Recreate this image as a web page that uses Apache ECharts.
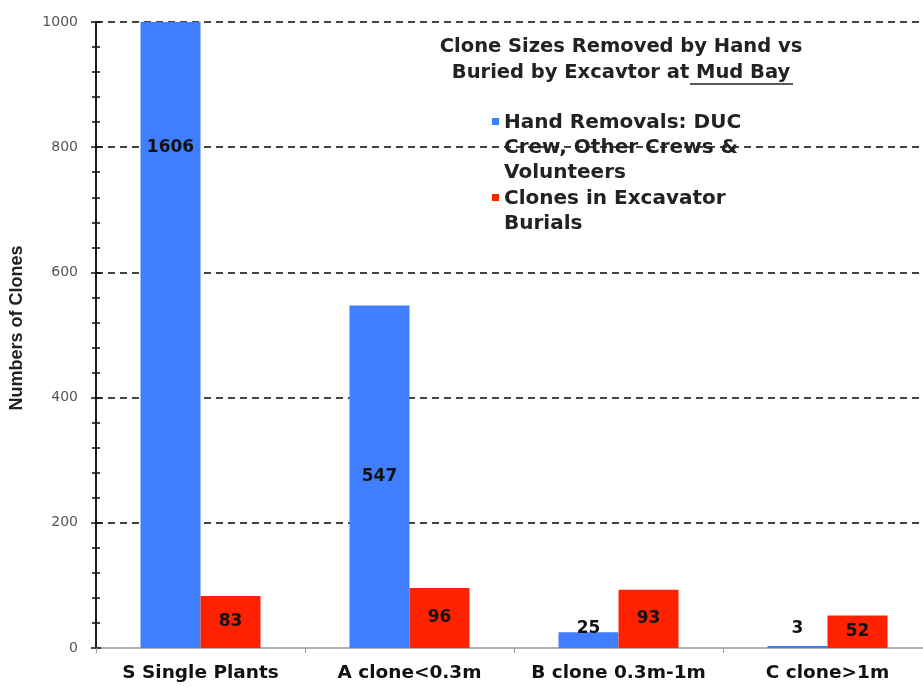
<!DOCTYPE html>
<html>
<head>
    <meta charset="UTF-8">
    <title>Clone Sizes at Mud Bay</title>
    <script src="https://cdn.jsdelivr.net/npm/echarts@6/dist/echarts.min.js"></script>
    <style>
        html, body { margin: 0; padding: 0; background: #fff; }
        #chart { width: 923px; height: 687px; }
    </style>
</head>
<body>
    <div id="chart"></div>
    <script>
        // data
        var categories = ['S Single Plants', 'A clone<0.3m', 'B clone 0.3m-1m', 'C clone>1m'];
        var handRemovals = [1606, 547, 25, 3];
        var excavatorBurials = [83, 96, 93, 52];
        var yMin = 0, yMax = 1000, yStep = 200;

        var handName = 'Hand Removals: DUC\nCrew, Other Crews &\nVolunteers';
        var burialName = 'Clones in Excavator\nBurials';

        var blue = '#3f7eff';
        var red = '#ff2200';
        var bold = "'DejaVu Sans', sans-serif";

        var handData = handRemovals.map(function(v) {
            var item = { value: v, label: {} };
            if (v > yMax) {
                // bar runs off the top of the axis, number sits near the 800 line
                item.label = { position: 'insideTop', distance: 117 };
            } else if (v < 60) {
                // tiny bars: number floats just above the baseline
                item.label = { position: 'insideBottom', distance: 11 };
            } else {
                item.label = { position: 'inside' };
            }
            return item;
        });

        var labelStyle = {
            show: true,
            color: '#111',
            fontFamily: bold,
            fontWeight: 'bold',
            fontSize: 17
        };

        var chart = echarts.init(document.getElementById('chart'));

        var yCommon = {
            type: 'value',
            min: yMin,
            max: yMax,
            interval: yStep,
            position: 'left',
            axisLine: { show: true, lineStyle: { color: '#111', width: 1.5 } },
            minorTick: { show: true, splitNumber: 5, length: 4, lineStyle: { color: '#111', width: 1.5 } },
            axisTick: { show: true, length: 5, lineStyle: { color: '#111', width: 1.5 } }
        };

        var legendText = { fontFamily: bold, fontWeight: 'bold', fontSize: 20, lineHeight: 25, color: '#222' };

        var option = {
            backgroundColor: '#fff',
            animation: false,
            title: {
                text: 'Clone Sizes Removed by Hand vs\nBuried by Excavtor at Mud Bay',
                left: 621,
                top: 34,
                textAlign: 'center',
                padding: 0,
                textStyle: {
                    fontFamily: bold,
                    fontWeight: 'bold',
                    fontSize: 19.5,
                    lineHeight: 26,
                    color: '#222'
                }
            },
            legend: [
                {
                    orient: 'vertical',
                    left: 492,
                    top: 110,
                    padding: 0,
                    itemWidth: 7,
                    itemHeight: 75,
                    symbolKeepAspect: false,
                    data: [{ name: handName, icon: 'path://M0,0L0,0M0,8h7v7h-7zM0,75L0,75' }],
                    textStyle: legendText
                },
                {
                    orient: 'vertical',
                    left: 492,
                    top: 186,
                    padding: 0,
                    itemWidth: 7,
                    itemHeight: 50,
                    symbolKeepAspect: false,
                    data: [{ name: burialName, icon: 'path://M0,0L0,0M0,8h7v7h-7zM0,50L0,50' }],
                    textStyle: legendText
                }
            ],
            graphic: [
                {
                    // underline under "Mud Bay"
                    type: 'line',
                    shape: { x1: 690, y1: 84, x2: 793, y2: 84 },
                    style: { stroke: '#222', lineWidth: 1.5 }
                }
            ],
            grid: {
                left: 96,
                top: 22,
                bottom: 39,
                width: 836,
                outerBoundsMode: 'none',
                containLabel: false
            },
            xAxis: {
                type: 'category',
                data: categories,
                axisLine: { lineStyle: { color: '#b0b0b0', width: 2 } },
                axisTick: { show: true, interval: 0, length: 5, alignWithLabel: false, lineStyle: { color: '#999' } },
                axisLabel: {
                    interval: 0,
                    hideOverlap: false,
                    color: '#111',
                    fontFamily: bold,
                    fontWeight: 'bold',
                    fontSize: 18.5,
                    margin: 16
                }
            },
            yAxis: [
                Object.assign({}, yCommon, {
                    name: 'Numbers of Clones',
                    nameLocation: 'middle',
                    nameGap: 70,
                    nameTextStyle: {
                        fontFamily: "'Liberation Sans Narrow', 'Liberation Sans', sans-serif",
                        fontWeight: 'bold',
                        fontSize: 18,
                        color: '#222',
                        padding: [0, 0, 0, 14]
                    },
                    axisLabel: {
                        color: '#555',
                        fontFamily: bold,
                        fontSize: 14,
                        margin: 18,
                        formatter: function(v) { return String(v); }
                    },
                    splitLine: {
                        show: true,
                        lineStyle: { color: '#444', width: 2, type: [7, 5] }
                    }
                }),
                Object.assign({}, yCommon, {
                    axisTick: Object.assign({}, yCommon.axisTick, { inside: true }),
                    minorTick: Object.assign({}, yCommon.minorTick),
                    axisLabel: { show: false },
                    splitLine: { show: false }
                })
            ],
            series: [
                {
                    name: handName,
                    type: 'bar',
                    barWidth: 60,
                    barGap: '0%',
                    clip: true,
                    itemStyle: { color: blue },
                    label: labelStyle,
                    data: handData
                },
                {
                    name: burialName,
                    type: 'bar',
                    barWidth: 60,
                    barGap: '0%',
                    clip: true,
                    itemStyle: { color: red },
                    label: Object.assign({}, labelStyle, { position: 'inside' }),
                    data: excavatorBurials
                }
            ]
        };

        chart.setOption(option);
    </script>
</body>
</html>
